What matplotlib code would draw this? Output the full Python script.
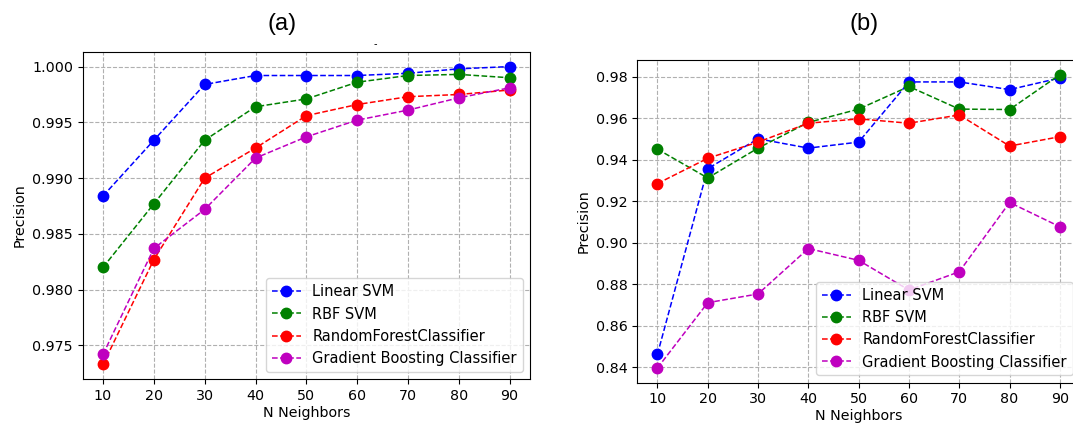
import matplotlib.pyplot as plt

neighbors = [10, 20, 30, 40, 50, 60, 70, 80, 90]
model_names = ['Linear SVM', 'RBF SVM', 'RandomForestClassifier', 'Gradient Boosting Classifier']
model_colors = ['b', 'g', 'r', 'm']

# panel (a)
a_linear = [0.9884, 0.9934, 0.9984, 0.9992, 0.9992, 0.9992, 0.9994, 0.9998, 1.0000]
a_rbf = [0.9820, 0.9877, 0.9934, 0.9964, 0.9971, 0.9986, 0.9992, 0.9993, 0.9990]
a_rf = [0.9733, 0.9827, 0.9900, 0.9927, 0.9956, 0.9966, 0.9973, 0.9975, 0.9979]
a_gb = [0.9742, 0.9837, 0.9872, 0.9918, 0.9937, 0.9952, 0.9961, 0.9972, 0.9981]

# panel (b)
b_linear = [0.8463, 0.9358, 0.9502, 0.9457, 0.9486, 0.9776, 0.9776, 0.9739, 0.9795]
b_rbf = [0.9452, 0.9313, 0.9457, 0.9581, 0.9645, 0.9754, 0.9645, 0.9643, 0.9811]
b_rf = [0.9286, 0.9408, 0.9486, 0.9577, 0.9598, 0.9577, 0.9617, 0.9467, 0.9512]
b_gb = [0.8397, 0.8712, 0.8754, 0.8973, 0.8916, 0.8773, 0.8861, 0.9195, 0.9078]

W, H = 1073, 430
fig = plt.figure(figsize=(W / 100, H / 100), dpi=100)


def px_axes(x0, x1, ytop, ybot):
    return fig.add_axes([x0 / W, (H - ybot) / H, (x1 - x0) / W, (ybot - ytop) / H])


def draw_panel(ax, series):
    for vals, name, c in zip(series, model_names, model_colors):
        ax.plot(neighbors, vals, linestyle='--', marker='o', color=c,
                markersize=7.5, linewidth=1.1, label=name)
    ax.grid(True, linestyle='--', color='#b0b0b0', linewidth=0.8)
    ax.set_xticks(neighbors)
    ax.tick_params(labelsize=10.3)
    ax.set_xlabel('N Neighbors', fontsize=10.3, labelpad=2)
    ax.set_ylabel('Precision', fontsize=10.3)
    ax.legend(loc='lower right', fontsize=10.5, handlelength=2.0)


ax1 = px_axes(82.7, 530, 51.7, 379.3)
draw_panel(ax1, [a_linear, a_rbf, a_rf, a_gb])
ax1.set_yticks([0.975, 0.980, 0.985, 0.990, 0.995, 1.000])
ax1.set_yticklabels(['0.975', '0.980', '0.985', '0.990', '0.995', '1.000'])

ax2 = px_axes(637.3, 1080, 60, 382.7)
draw_panel(ax2, [b_linear, b_rbf, b_rf, b_gb])
ax2.set_yticks([0.84, 0.86, 0.88, 0.90, 0.92, 0.94, 0.96, 0.98])
ax2.set_yticklabels(['0.84', '0.86', '0.88', '0.90', '0.92', '0.94', '0.96', '0.98'])

fig.text(282.5 / W, 1 - 24 / H, '(a)', ha='center', va='center',
         fontsize=17, family='Liberation Sans')
fig.text(864 / W, 1 - 24 / H, '(b)', ha='center', va='center',
         fontsize=17, family='Liberation Sans')
fig.text(375 / W, 1 - 44 / H, '-', ha='center', va='center', fontsize=7)

fig.savefig('out.png', dpi=100)
